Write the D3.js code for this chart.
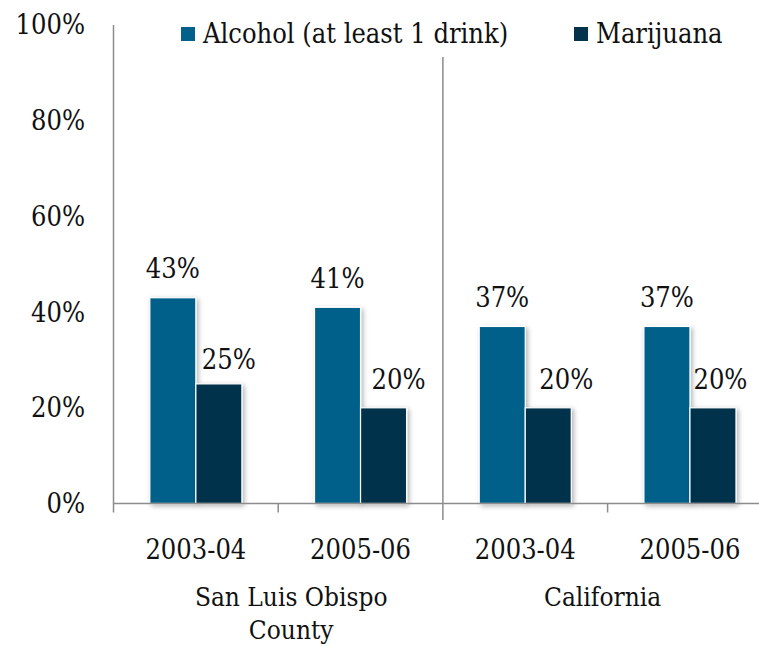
<!DOCTYPE html>
<html>
<head>
<meta charset="utf-8">
<script src="https://cdn.jsdelivr.net/npm/d3@7"></script>
<style>
  html, body { margin: 0; padding: 0; background: #ffffff; }
  svg { display: block; }
</style>
</head>
<body>
<svg id="chart" width="759" height="646"></svg>
<script>
// ---- data ----
const groups = ["San Luis Obispo County", "California"];
const periods = ["2003-04", "2005-06"];
const seriesNames = ["Alcohol (at least 1 drink)", "Marijuana"];
const alcohol = [43, 41, 37, 37];
const marijuana = [25, 20, 20, 20];
const yTicks = [0, 20, 40, 60, 80, 100];

// ---- layout / style (not data) ----
const W = 759, H = 646;
const FONT = "'DejaVu Serif Condensed', 'DejaVu Serif', serif";
const plotLeft = 113.5, plotRight = 772.3, plotTop = 25, plotBottom = 503.5;
const colors = ["#03608a", "#04334b"];
const axisColor = "#8c8c8c";
const marLabelDx = [10, 15, 18, 7.5];
const marLabelDy = [-14.5, -19, -19, -19];
const groupLabelDx = [13, -5];
const FS = 27, FSG = 26;

const svg = d3.select("#chart");

const defs = svg.append("defs");
const f = defs.append("filter").attr("id", "shadow")
  .attr("x", "-30%").attr("y", "-10%").attr("width", "160%").attr("height", "130%");
f.append("feDropShadow").attr("dx", 2).attr("dy", 2).attr("stdDeviation", 2.5)
  .attr("flood-color", "#000").attr("flood-opacity", 0.3);

function txt(sel) {
  return sel.append("text").style("font-family", FONT).style("font-stretch", "condensed")
    .attr("fill", "#111");
}

// categories: group × period
const cats = [];
groups.forEach((g, gi) => periods.forEach((p, pi) => cats.push({ g, gi, p, key: gi + "|" + p })));
const rows = cats.map((c, i) => ({ ...c, values: [alcohol[i], marijuana[i]], i }));

const x0 = d3.scaleBand().domain(cats.map(c => c.key)).range([plotLeft, plotRight])
  .paddingInner(0.441).paddingOuter(0.2205);
const x1 = d3.scaleBand().domain([0, 1]).range([0, x0.bandwidth()]).padding(0);
const y = d3.scaleLinear().domain([0, 100]).range([plotBottom, plotTop]);

// y axis line (extends below baseline)
svg.append("line").attr("x1", plotLeft).attr("x2", plotLeft)
  .attr("y1", plotTop).attr("y2", plotBottom + 9)
  .attr("stroke", axisColor).attr("stroke-width", 1.5);

// y tick labels
yTicks.forEach(d => {
  txt(svg).attr("x", 85).attr("y", y(d)).attr("dy", "0.35em")
    .attr("text-anchor", "end").attr("font-size", FS)
    .text(d + "%");
});

// bars
const gBars = svg.append("g");
rows.forEach(r => {
  r.values.forEach((v, si) => {
    gBars.append("rect")
      .attr("x", x0(r.key) + x1(si))
      .attr("y", y(v))
      .attr("width", x1.bandwidth())
      .attr("height", y(0) - y(v))
      .attr("fill", colors[si])
      .attr("stroke", "#ffffff").attr("stroke-width", 1.2)
      .attr("filter", "url(#shadow)");
  });
});

// x axis line
svg.append("line").attr("x1", plotLeft).attr("x2", plotRight)
  .attr("y1", plotBottom).attr("y2", plotBottom)
  .attr("stroke", axisColor).attr("stroke-width", 1.5);

// tick marks between categories
const step = x0.step();
const boundaries = d3.range(1, cats.length).map(i => plotLeft + i * step);
boundaries.forEach((bx, i) => {
  const isGroup = (i + 1) % periods.length === 0;
  svg.append("line").attr("x1", bx).attr("x2", bx)
    .attr("y1", isGroup ? 57 : plotBottom).attr("y2", isGroup ? 520 : plotBottom + 9)
    .attr("stroke", axisColor).attr("stroke-width", 1.5);
});

// value labels
rows.forEach(r => {
  const xa = x0(r.key) + x1(0) + x1.bandwidth() / 2;
  txt(svg).attr("x", xa).attr("y", y(r.values[0]) - 19.5)
    .attr("text-anchor", "middle").attr("font-size", FS).text(r.values[0] + "%");
  const xm = x0(r.key) + x1(1) + x1.bandwidth() / 2 + marLabelDx[r.i];
  txt(svg).attr("x", xm).attr("y", y(r.values[1]) + marLabelDy[r.i])
    .attr("text-anchor", "middle").attr("font-size", FS).text(r.values[1] + "%");
});

// period labels
rows.forEach(r => {
  txt(svg).attr("x", x0(r.key) + x0.bandwidth() / 2).attr("y", 559)
    .attr("text-anchor", "middle").attr("font-size", FS).text(r.p);
});

// group labels (wrapped)
const groupLines = [["San Luis Obispo", "County"], ["California"]];
groups.forEach((g, gi) => {
  const cx = plotLeft + (gi * periods.length + periods.length / 2) * step + groupLabelDx[gi];
  const t = txt(svg).attr("text-anchor", "middle").attr("font-size", FSG);
  groupLines[gi].forEach((ln, li) => {
    t.append("tspan").attr("x", cx).attr("y", 606 + li * 33).text(ln);
  });
});

// legend
const legendX = [181, 574];
seriesNames.forEach((s, si) => {
  svg.append("rect").attr("x", legendX[si]).attr("y", 27).attr("width", 14).attr("height", 14)
    .attr("fill", colors[si]);
  txt(svg).attr("x", legendX[si] + 22).attr("y", 43)
    .attr("font-size", FS).text(s);
});
</script>
</body>
</html>
